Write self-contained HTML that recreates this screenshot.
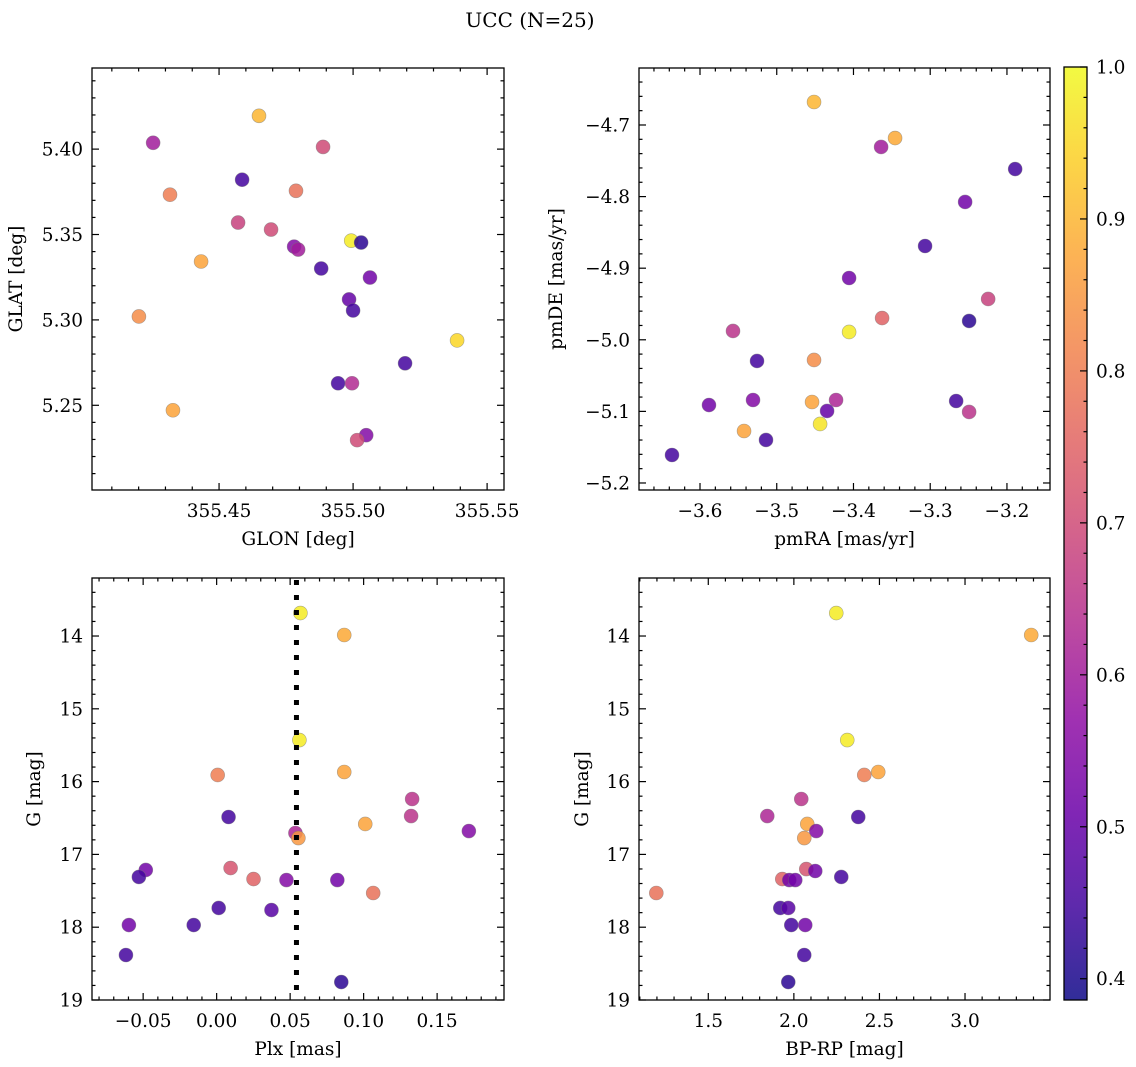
<!DOCTYPE html>
<html><head><meta charset="utf-8"><style>
html,body{margin:0;padding:0;background:#fff;}
svg{display:block;font-family:"DejaVu Serif","Liberation Serif",serif;}
</style></head><body>
<svg id="fig" width="1136" height="1067" viewBox="0 0 1136 1067">
<rect width="1136" height="1067" fill="#fff"/>
<text x="530" y="27" font-size="20" text-anchor="middle">UCC (N=25)</text>
<defs><linearGradient id="cbg" x1="0" y1="1" x2="0" y2="0"></linearGradient></defs>
</svg>
<script>
// ---- data ----
const glon=[355.4649,355.4254,355.4888,355.4586,355.4317,355.4787,355.4571,355.4694,355.4780,355.4795,355.4993,355.5030,355.4433,355.4881,355.5063,355.4985,355.5000,355.4201,355.5388,355.5194,355.4944,355.4996,355.4328,355.5049,355.5015];
const glat=[5.4195,5.4037,5.4013,5.3821,5.3733,5.3756,5.3570,5.3529,5.3429,5.3412,5.3464,5.3453,5.3342,5.3301,5.3248,5.3120,5.3055,5.3020,5.2880,5.2746,5.2629,5.2629,5.2471,5.2325,5.2296];
const probP1=[0.9,0.6,0.7,0.45,0.8,0.78,0.68,0.7,0.55,0.6,0.98,0.42,0.87,0.45,0.52,0.5,0.45,0.83,0.95,0.45,0.45,0.63,0.87,0.55,0.7];
const pmra=[-3.4514,-3.3458,-3.364,-3.1893,-3.2545,-3.3067,-3.4057,-3.2245,-3.3627,-3.2493,-3.4057,-3.557,-3.5257,-3.4514,-3.5883,-3.5309,-3.4540,-3.4227,-3.4344,-3.2662,-3.2493,-3.5426,-3.4435,-3.514,-3.6365];
const pmde=[-4.6679,-4.7182,-4.7307,-4.7615,-4.8075,-4.8690,-4.9137,-4.9430,-4.9696,-4.9737,-4.9891,-4.9877,-5.0296,-5.0282,-5.0911,-5.0841,-5.0869,-5.0841,-5.0994,-5.0855,-5.1008,-5.1274,-5.1176,-5.1399,-5.1609];
const probP2=[0.9,0.88,0.6,0.45,0.52,0.45,0.52,0.68,0.75,0.42,0.98,0.65,0.45,0.83,0.52,0.55,0.87,0.62,0.5,0.45,0.65,0.87,0.97,0.45,0.45];
const plx=[0.0570,0.0868,0.0563,0.0007,0.0868,0.1330,0.0081,0.1323,0.1011,0.1716,0.0536,0.0556,-0.0482,0.0095,-0.0529,0.0251,0.0475,0.0821,0.1065,0.0014,0.0373,-0.0597,-0.0156,-0.0617,0.0848];
const gmag3=[13.684,13.986,15.429,15.909,15.868,16.239,16.486,16.473,16.582,16.679,16.706,16.775,17.214,17.187,17.310,17.338,17.352,17.352,17.530,17.736,17.764,17.970,17.970,18.382,18.753];
const probP3=[0.98,0.88,0.98,0.8,0.87,0.65,0.45,0.65,0.87,0.55,0.62,0.85,0.52,0.72,0.45,0.75,0.55,0.52,0.78,0.45,0.48,0.52,0.45,0.45,0.42];
const bprp=[2.2477,3.3867,2.3119,2.4112,2.4930,2.0432,2.3762,1.8446,2.0783,2.1308,2.0607,2.0724,2.1250,1.9322,1.9731,2.0082,2.2769,1.1963,1.9206,1.9673,1.9848,2.0666,2.0607,1.9673];
const gmag4=[13.684,13.986,15.429,15.909,15.868,16.239,16.486,16.473,16.582,16.679,16.775,17.201,17.228,17.338,17.352,17.352,17.310,17.530,17.736,17.736,17.970,17.970,18.382,18.753];
const probP4=[0.98,0.88,0.98,0.8,0.87,0.65,0.45,0.62,0.87,0.55,0.85,0.72,0.52,0.75,0.52,0.52,0.45,0.78,0.45,0.48,0.45,0.52,0.45,0.42];
const plxLine=[0.0543];
const cbTicks=[0.4,0.5,0.6,0.7,0.8,0.9,1.0];
const p1xt=[355.45,355.50,355.55], p1yt=[5.25,5.30,5.35,5.40];
const p2xt=[-3.6,-3.5,-3.4,-3.3,-3.2], p2yt=[-5.2,-5.1,-5.0,-4.9,-4.8,-4.7];
const p3xt=[-0.05,0.00,0.05,0.10,0.15], gyt=[14,15,16,17,18,19];
const p4xt=[1.5,2.0,2.5,3.0];
const vmin=0.386, vmax=1.0;

const NS="http://www.w3.org/2000/svg";
const svg=document.getElementById('fig');
const FS=18.5;
function mk(tag,attrs,parent){const e=document.createElementNS(NS,tag);for(const k in attrs)e.setAttribute(k,attrs[k]);(parent||svg).appendChild(e);return e;}
const stops=[[0,'#0d0887'],[0.1,'#41049d'],[0.2,'#6a00a8'],[0.3,'#8f0da4'],[0.4,'#b12a90'],[0.5,'#cc4778'],[0.6,'#e16462'],[0.7,'#f2844b'],[0.8,'#fca636'],[0.9,'#fcce25'],[1,'#f0f921']];
function hx(h){return [1,3,5].map(i=>parseInt(h.substr(i,2),16));}
function plasma(t){t=Math.max(0,Math.min(1,t));for(let i=1;i<stops.length;i++){if(t<=stops[i][0]){const a=stops[i-1],b=stops[i];const f=(t-a[0])/(b[0]-a[0]);const ca=hx(a[1]),cb=hx(b[1]);return 'rgb('+ca.map((v,j)=>Math.round(v+(cb[j]-v)*f)).join(',')+')';}}return stops[10][1];}
function cmap(v){return plasma((v-vmin)/(vmax-vmin));}

function panel(o){
  const g=mk('g',{});
  
  
  const X=v=>o.x0+(v-o.xd[0])/(o.xd[1]-o.xd[0])*(o.x1-o.x0);
  const Y=v=>o.y0+(v-o.yd[0])/(o.yd[1]-o.yd[0])*(o.y1-o.y0);
  o.X=X;o.Y=Y;o.g=g;
  const tg=mk('g',{stroke:'#000','stroke-width':1.2},g);
  function ticksX(majors,step,fmt){
    const lo=Math.min(o.xd[0],o.xd[1]),hi=Math.max(o.xd[0],o.xd[1]);
    for(let v=Math.ceil(lo/step-1e-6)*step;v<=hi+1e-9;v+=step){
      const isMaj=majors.some(m=>Math.abs(m-v)<step/10);const L=isMaj?7:3.5;const x=X(v);
      mk('line',{x1:x,x2:x,y1:o.y1,y2:o.y1-L},tg);mk('line',{x1:x,x2:x,y1:o.y0,y2:o.y0+L},tg);
    }
    majors.forEach(m=>{const t=mk('text',{x:X(m),y:o.y1+27,'font-size':FS,'text-anchor':'middle',stroke:'none'},g);t.textContent=fmt(m).replace('-','\u2212');
      
      });
  }
  function ticksY(majors,step,fmt){
    const lo=Math.min(o.yd[0],o.yd[1]),hi=Math.max(o.yd[0],o.yd[1]);
    for(let v=Math.ceil(lo/step-1e-6)*step;v<=hi+1e-9;v+=step){
      const isMaj=majors.some(m=>Math.abs(m-v)<step/10);const L=isMaj?7:3.5;const y=Y(v);
      mk('line',{y1:y,y2:y,x1:o.x0,x2:o.x0+L},tg);mk('line',{y1:y,y2:y,x1:o.x1,x2:o.x1-L},tg);
    }
    majors.forEach(m=>{const t=mk('text',{x:o.x0-9,y:Y(m)+6.5,'font-size':FS,'text-anchor':'end',stroke:'none'},g);t.textContent=fmt(m).replace('-','\u2212');
      
      });
  }
  ticksX(o.xt,o.xstep,o.xfmt);ticksY(o.yt,o.ystep,o.yfmt);
  const xl=mk('text',{x:(o.x0+o.x1)/2,y:o.y1+55,'font-size':FS,'text-anchor':'middle'},g);xl.textContent=o.xlab;
  
  
  const yl=mk('text',{x:o.ylx,y:(o.y0+o.y1)/2,'font-size':FS,'text-anchor':'middle',transform:`rotate(-90 ${o.ylx} ${(o.y0+o.y1)/2})`},g);yl.textContent=o.ylab;
  
  
  return o;
}
function points(o,xs,ys,cs){
  xs.forEach((v,i)=>{const c=mk('circle',{cx:o.X(v),cy:o.Y(ys[i]),r:7,fill:cmap(cs[i]),'fill-opacity':0.85,stroke:'#777','stroke-opacity':0.6,'stroke-width':0.6},o.g);
    
    });
}
function frame(o){const r=mk('rect',{x:o.x0,y:o.y0,width:o.x1-o.x0,height:o.y1-o.y0,fill:'none',stroke:'#000','stroke-width':1.3},o.g);
  
  }

const f2=v=>v.toFixed(2), f1=v=>v.toFixed(1), f0=v=>v.toFixed(0);
const P1=panel({name:'glon-glat-panel',x0:92,x1:504,y0:68,y1:490,xd:[355.4026,355.5563],yd:[5.4475,5.2004],xt:p1xt,xstep:0.01,xfmt:f2,yt:p1yt,ystep:0.01,yfmt:f2,xlab:'GLON [deg]',ylab:'GLAT [deg]',ylx:22});
points(P1,glon,glat,probP1);frame(P1);
const P2=panel({name:'proper-motion-panel',x0:639,x1:1050,y0:68,y1:490,xd:[-3.6795,-3.1439],yd:[-4.6204,-5.2098],xt:p2xt,xstep:0.02,xfmt:f1,yt:p2yt,ystep:0.02,yfmt:f1,xlab:'pmRA [mas/yr]',ylab:'pmDE [mas/yr]',ylx:562});
points(P2,pmra,pmde,probP2);frame(P2);
const P3=panel({name:'plx-g-panel',x0:92,x1:504,y0:578,y1:1000,xd:[-0.0848,0.1955],yd:[13.203,19.0],xt:p3xt,xstep:0.01,xfmt:f2,yt:gyt,ystep:0.2,yfmt:f0,xlab:'Plx [mas]',ylab:'G [mag]',ylx:40});
points(P3,plx,gmag3,probP3);
plxLine.forEach(v=>{const l=mk('line',{x1:P3.X(v),x2:P3.X(v),y1:580,y2:1000,stroke:'#000','stroke-width':5,'stroke-dasharray':'5 10'},P3.g);
  
  });
frame(P3);
const P4=panel({name:'cmd-panel',x0:639,x1:1050,y0:578,y1:1000,xd:[1.0952,3.4965],yd:[13.203,19.0],xt:p4xt,xstep:0.1,xfmt:f1,yt:gyt,ystep:0.2,yfmt:f0,xlab:'BP-RP [mag]',ylab:'G [mag]',ylx:588});
points(P4,bprp,gmag4,probP4);frame(P4);

// colorbar
const grad=document.getElementById('cbg');
for(let i=0;i<=20;i++){mk('stop',{offset:i/20,'stop-color':plasma(i/20),'stop-opacity':0.85},grad);}
const cb=mk('g',{});


const cy0=67,cy1=1000;
const CY=v=>cy1-(v-vmin)/(vmax-vmin)*(cy1-cy0);
mk('rect',{x:1064,y:cy0,width:23,height:cy1-cy0,fill:'url(#cbg)',stroke:'#000','stroke-width':1.3},cb);
for(let v=0.4;v<=1.0001;v+=0.02){const y=CY(v);const maj=Math.abs(Math.round(v*10)-v*10)<1e-6;mk('line',{x1:1087,x2:1087-(maj?7:3.5),y1:y,y2:y,stroke:'#000','stroke-width':1.2},cb);}
cbTicks.forEach(v=>{const t=mk('text',{x:1096,y:CY(v)+6.5,'font-size':FS},cb);t.textContent=v.toFixed(1);
  
  });
</script>
</body></html>
